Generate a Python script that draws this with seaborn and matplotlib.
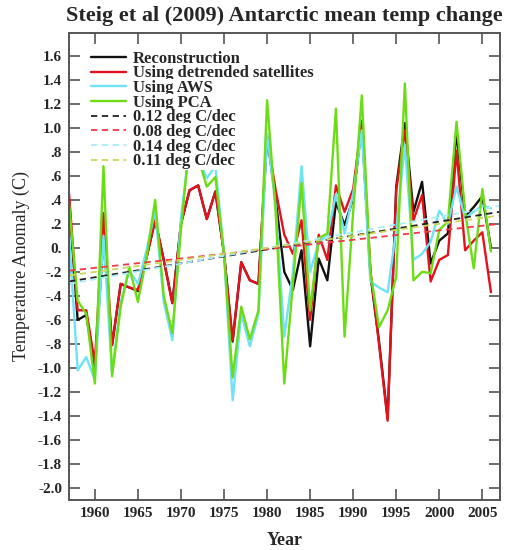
import seaborn as sns
from matplotlib import pyplot as plt

years = list(range(1957, 2007))

reconstruction = [0.40, -0.60, -0.56, -0.99, 0.08, -0.81, -0.30, -0.33, -0.36, -0.08,
                  0.23, -0.10, -0.46, 0.20, 0.48, 0.52, 0.24, 0.47, -0.05, -0.78,
                  -0.12, -0.27, -0.30, 0.93, 0.40, -0.20, -0.35, -0.02, -0.82, -0.09,
                  -0.27, 0.38, 0.19, 0.41, 1.02, -0.22, -0.78, -1.42, 0.51, 1.04,
                  0.30, 0.55, -0.13, 0.06, 0.12, 0.97, 0.26, 0.34, 0.43, 0.00]
detrended = [0.45, -0.52, -0.52, -0.96, 0.29, -0.81, -0.30, -0.33, -0.35, -0.08,
             0.23, -0.10, -0.46, 0.20, 0.48, 0.52, 0.24, 0.47, -0.05, -0.77,
             -0.12, -0.27, -0.30, 0.93, 0.48, 0.11, -0.05, 0.23, -0.60, 0.11,
             -0.10, 0.52, 0.30, 0.49, 1.06, -0.19, -0.80, -1.44, 0.48, 0.98,
             0.23, 0.44, -0.28, -0.10, -0.06, 0.81, -0.02, 0.06, 0.13, -0.37]
aws = [0.10, -1.02, -0.91, -1.10, 0.10, -1.05, -0.45, -0.19, -0.30, -0.02,
       0.31, -0.45, -0.77, 0.25, 0.85, 0.75, 0.58, 0.68, -0.05, -1.27,
       -0.55, -0.82, -0.55, 0.95, 0.35, -0.74, -0.20, 0.68, -0.20, 0.05,
       0.10, 0.45, 0.12, 0.45, 0.98, -0.28, -0.33, -0.37, 0.15, 0.86,
       -0.10, -0.05, 0.05, 0.31, 0.20, 0.51, 0.25, 0.30, 0.35, 0.33]
pca = [0.37, -0.44, -0.55, -1.13, 0.68, -1.07, -0.49, -0.16, -0.45, -0.08,
       0.40, -0.40, -0.71, 0.15, 0.90, 0.75, 0.51, 0.59, -0.05, -1.08,
       -0.49, -0.76, -0.52, 1.23, 0.30, -1.13, -0.30, 0.54, -0.52, 0.08,
       0.12, 1.16, -0.74, 0.30, 1.27, -0.20, -0.66, -0.52, -0.24, 1.37,
       -0.27, -0.20, -0.21, 0.15, 0.22, 1.05, 0.30, -0.17, 0.49, -0.03]

# trend lines, end values
trend_years = [1957, 2007]
trend_recon = [-0.28, 0.30]
trend_detrended = [-0.19, 0.20]
trend_aws = [-0.30, 0.35]
trend_pca = [-0.23, 0.27]

series_labels = ['Reconstruction', 'Using detrended satellites', 'Using AWS', 'Using PCA']
trend_labels = ['0.12 deg C/dec', '0.08 deg C/dec', '0.14 deg C/dec', '0.11 deg C/dec']
series_colors = ['#111111', '#e3121c', '#70e2f6', '#6cdc14']
trend_colors = ['#222222', '#ee3a48', '#a8eef8', '#cbd65a']

xtick_years = [1960, 1965, 1970, 1975, 1980, 1985, 1990, 1995, 2000, 2005]
ytick_vals = [-2.0, -1.8, -1.6, -1.4, -1.2, -1.0, -0.8, -0.6, -0.4, -0.2,
              0.0, 0.2, 0.4, 0.6, 0.8, 1.0, 1.2, 1.4, 1.6]
ytick_labels = ['-2.0', '-1.8', '-1.6', '-1.4', '-1.2', '-1.0', '-.8', '-.6', '-.4', '-.2',
                '0.', '.2', '.4', '.6', '.8', '1.0', '1.2', '1.4', '1.6']

sns.set_style('ticks')
plt.rcParams['font.family'] = ['Liberation Serif', 'DejaVu Serif']

fig = plt.figure(figsize=(5.23, 5.5), dpi=100)
ax = fig.add_axes([0.132, 0.091, 0.824, 0.849])

all_series = [reconstruction, detrended, aws, pca]
for vals, lab, col in zip(all_series, series_labels, series_colors):
    sns.lineplot(x=years, y=vals, ax=ax, color=col, linewidth=1.7, label=lab)

all_trends = [trend_recon, trend_detrended, trend_aws, trend_pca]
for vals, lab, col in zip(all_trends, trend_labels, trend_colors):
    sns.lineplot(x=trend_years, y=vals, ax=ax, color=col, linewidth=1.3,
                 linestyle=(0, (3.5, 2.5)), label=lab)

ax.set_xlim(1957, 2007.05)
ax.set_ylim(-2.1, 1.79)
ax.set_xticks(xtick_years)
ax.set_xticklabels([str(y) for y in xtick_years], fontsize=11, fontweight='bold')
ax.set_yticks(ytick_vals)
ax.set_yticklabels(ytick_labels, fontsize=11, fontweight='bold')
ax.tick_params(direction='in', length=8, width=1.2, color='#555555',
               top=True, right=True, pad=5)
for sp in ax.spines.values():
    sp.set_color('#555555')
    sp.set_linewidth(1.4)

ax.set_title('Steig et al (2009) Antarctic mean temp change',
             fontsize=16, fontweight='bold', pad=9)
ax.set_xlabel('Year', fontsize=13, fontweight='bold', labelpad=9)
ax.set_ylabel('Temperature Anomaly (C)', fontsize=13, labelpad=6)

leg = ax.legend(loc='upper left', bbox_to_anchor=(0.05, 0.962), frameon=False,
                prop={'size': 12, 'weight': 'bold'}, handlelength=2.15,
                handletextpad=0.4, labelspacing=-0.08, borderpad=0, borderaxespad=0)
leg.set_zorder(10)
for t in leg.get_texts():
    t.set_bbox(dict(facecolor='white', edgecolor='none', pad=0.5))

fig.savefig('out.png', dpi=100)
